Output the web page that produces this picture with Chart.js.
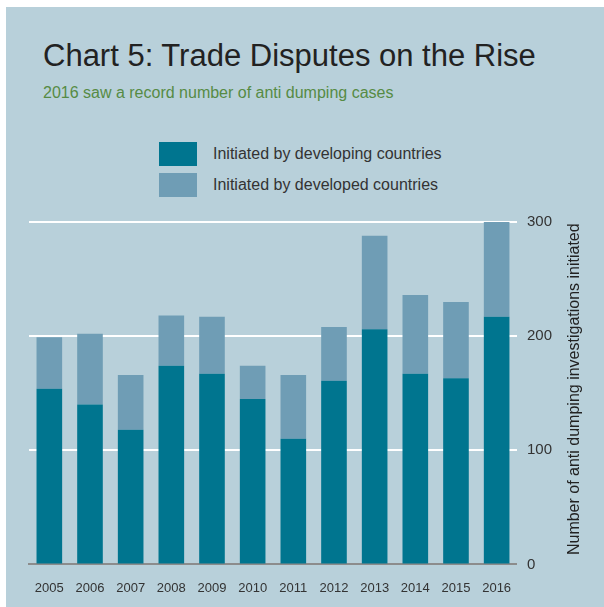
<!DOCTYPE html>
<html>
<head>
<meta charset="utf-8">
<script src="https://cdn.jsdelivr.net/npm/chart.js@4.4.1/dist/chart.umd.min.js"></script>
<style>
    body {
        margin: 0;
        background: #ffffff;
        font-family: "Liberation Sans", Arial, sans-serif;
    }
    #panel {
        position: absolute;
        left: 6px;
        top: 7px;
        width: 598px;
        height: 600px;
        background: #b8d0da;
    }
    #title {
        position: absolute;
        left: 37px;
        top: 31px;
        margin: 0;
        font-size: 31px;
        font-weight: normal;
        color: #222222;
        white-space: nowrap;
    }
    #subtitle {
        position: absolute;
        left: 37px;
        top: 77px;
        margin: 0;
        font-size: 16px;
        color: #568b44;
        white-space: nowrap;
    }
    #legend {
        position: absolute;
        left: 153px;
        top: 135px;
    }
    .legend-item {
        display: flex;
        align-items: center;
        height: 24px;
        margin-bottom: 7px;
        font-size: 16px;
        color: #333333;
    }
    .legend-box {
        width: 38px;
        height: 24px;
        margin-right: 16px;
    }
    #chart_wrap {
        position: absolute;
        left: 0;
        top: 190px;
        width: 598px;
        height: 415px;
    }
</style>
</head>
<body>
<div id="panel">
    <h1 id="title">Chart 5: Trade Disputes on the Rise</h1>
    <p id="subtitle">2016 saw a record number of anti dumping cases</p>
    <div id="legend"></div>
    <div id="chart_wrap"><canvas id="disputes_chart"></canvas></div>
</div>
<script>
const years = ["2005", "2006", "2007", "2008", "2009", "2010", "2011", "2012", "2013", "2014", "2015", "2016"];
const developing = [154, 140, 118, 174, 167, 145, 110, 161, 206, 167, 163, 217];
const developed = [45, 62, 48, 44, 50, 29, 56, 47, 82, 69, 67, 83];
const seriesNames = ["Initiated by developing countries", "Initiated by developed countries"];
const yTicks = [0, 100, 200, 300];
const yTitle = "Number of anti dumping investigations initiated";

const darkTeal = "#00758f";
const lightTeal = "#6f9db5";

// legend is stacked vertically above the plot, so build it by hand
const legend = document.getElementById("legend");
[darkTeal, lightTeal].forEach((color, i) => {
    const item = document.createElement("div");
    item.className = "legend-item";
    const box = document.createElement("div");
    box.className = "legend-box";
    box.style.background = color;
    const label = document.createElement("span");
    label.textContent = seriesNames[i];
    item.appendChild(box);
    item.appendChild(label);
    legend.appendChild(item);
});

// right axis title reads bottom to top
const rightAxisTitle = {
    id: "rightAxisTitle",
    afterDraw(chart) {
        const { ctx, chartArea } = chart;
        ctx.save();
        ctx.translate(chart.width - 29, (chartArea.top + chartArea.bottom) / 2 - 4);
        ctx.rotate(-Math.PI / 2);
        ctx.font = '16px "Liberation Sans", Arial, sans-serif';
        ctx.fillStyle = "#222222";
        ctx.textAlign = "center";
        ctx.textBaseline = "middle";
        ctx.fillText(yTitle, 0, 0);
        ctx.restore();
    },
};

const disputes_chart = document.getElementById("disputes_chart");
new Chart(disputes_chart, {
    type: "bar",
    data: {
        labels: years,
        datasets: [
            {
                label: seriesNames[0],
                data: developing,
                backgroundColor: darkTeal,
                barPercentage: 0.63,
                categoryPercentage: 1,
            },
            {
                label: seriesNames[1],
                data: developed,
                backgroundColor: lightTeal,
                barPercentage: 0.63,
                categoryPercentage: 1,
            },
        ],
    },
    options: {
        responsive: true,
        maintainAspectRatio: false,
        animation: false,
        layout: {
            padding: { left: 23, right: 42, top: 25, bottom: 0 },
        },
        plugins: {
            legend: { display: false },
            tooltip: { enabled: false },
        },
        scales: {
            x: {
                stacked: true,
                grid: { display: false, drawTicks: false },
                border: { display: true, color: "#8c8c8c", width: 2 },
                ticks: {
                    padding: 16,
                    color: "#333333",
                    font: { family: '"Liberation Sans", Arial', size: 13 },
                },
            },
            y: {
                stacked: true,
                position: "right",
                min: 0,
                max: 300,
                afterBuildTicks: (axis) => {
                    axis.ticks = yTicks.map((v) => ({ value: v }));
                },
                grid: {
                    color: (c) => (c.tick && c.tick.value === 0 ? "rgba(0,0,0,0)" : "#ffffff"),
                    lineWidth: 2,
                    drawTicks: false,
                },
                border: { display: false },
                ticks: {
                    padding: 10,
                    color: "#333333",
                    font: { family: '"Liberation Sans", Arial', size: 15 },
                },
            },
        },
    },
    plugins: [rightAxisTitle],
});
</script>
</body>
</html>
